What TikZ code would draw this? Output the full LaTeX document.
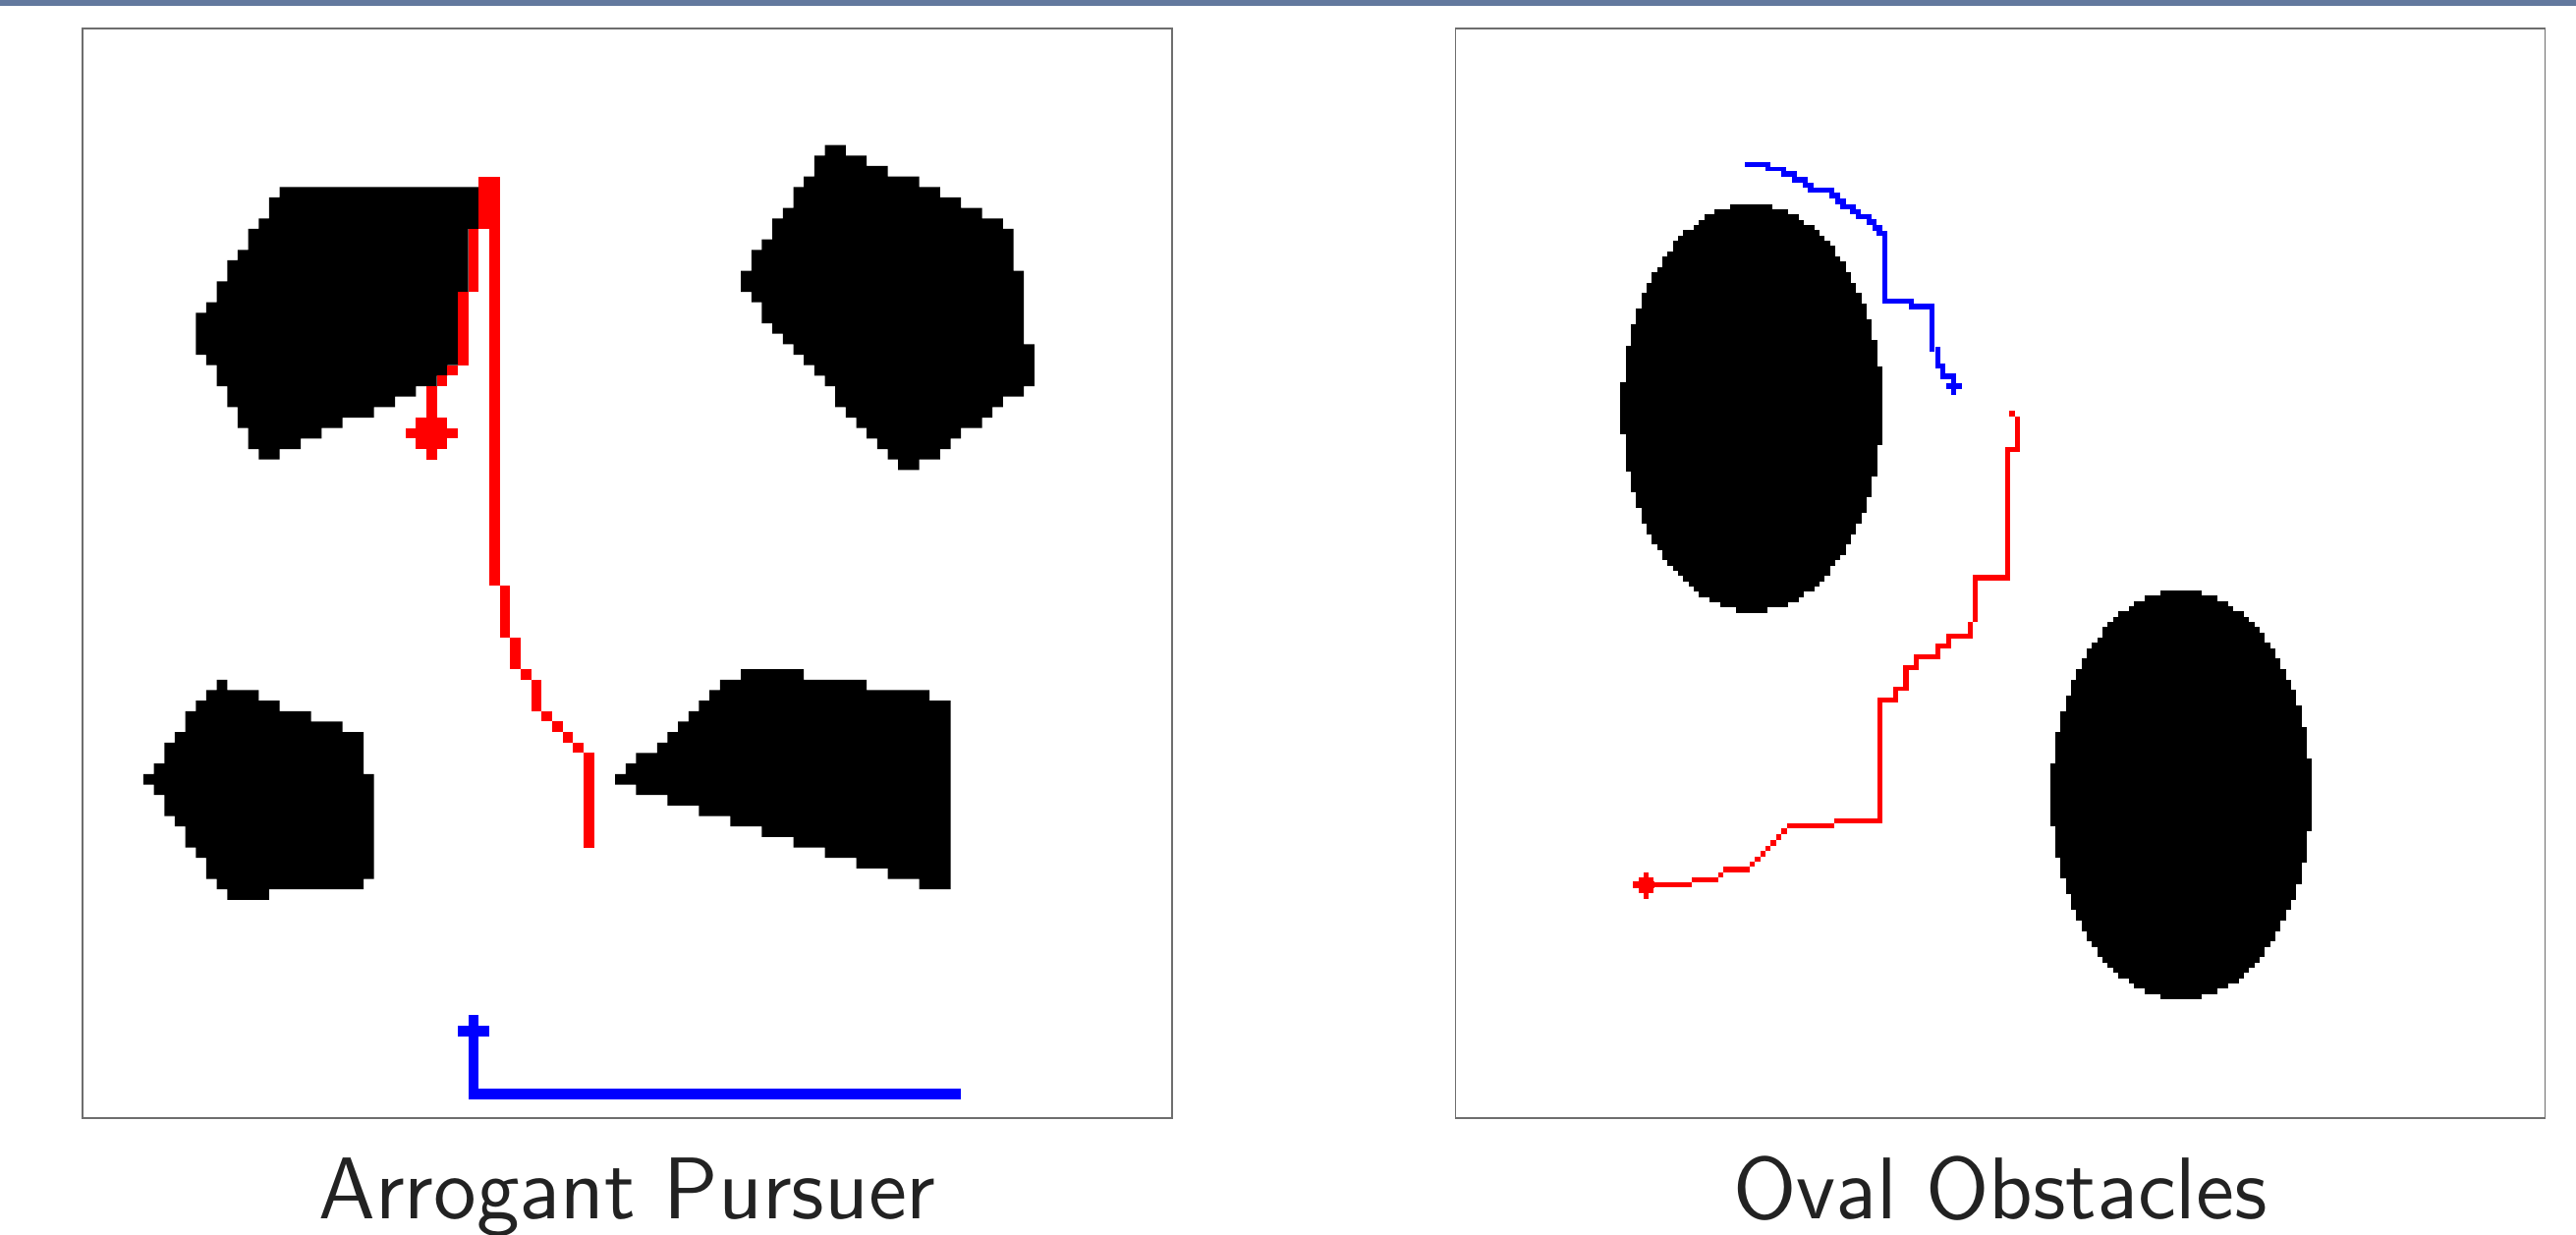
\documentclass[tikz,border=0pt]{standalone}
\definecolor{barblue}{RGB}{99,121,158}
\definecolor{framegray}{RGB}{110,110,110}
\definecolor{pxred}{RGB}{255,0,0}
\definecolor{pxblue}{RGB}{0,0,255}
\definecolor{titlegray}{RGB}{34,34,34}
% pixelated ellipse: #1 centre x, #2 top y, #3 x radius, #4 y radius
\newcommand{\pxellipse}[4]{%
  \foreach \j in {0,...,77} {%
    \pgfmathsetmacro{\pxY}{#2+\j*5.333}%
    \pgfmathsetmacro{\pxT}{(\pxY+2.6665-(#2+#4))/#4}%
    \pgfmathsetmacro{\pxW}{#3*sqrt(max(0,1-\pxT*\pxT))}%
    \pgfmathsetmacro{\pxL}{1916+round((#1-\pxW-1916)/5.333)*5.333}%
    \pgfmathsetmacro{\pxR}{1916+round((#1+\pxW-1916)/5.333)*5.333}%
    \fill[obst] (\pxL,\pxY) rectangle (\pxR,\pxY+5.45);%
  }%
}
\begin{document}
\begin{tikzpicture}[x=1pt,y=-1pt,
  obst/.style={fill=black},
  redpx/.style={fill=pxred},
  bluepx/.style={fill=pxblue},
  framebox/.style={draw=framegray,line width=1.4pt},
  titletext/.style={text=titlegray,anchor=base,inner sep=0pt}]
\useasboundingbox (0,0) rectangle (2622,1256);
\fill[white] (0,0) rectangle (2622,1256);
\fill[barblue] (0,0) rectangle (2622,5.5);
% ---------------- left panel ----------------
\begin{scope}[shift={(199.3,190.3)},x=10.67pt,y=-10.67pt]
  % obstacles
  \fill[obst] (8,0) -- (27,0) -- (27,4) -- (26,4) -- (26,10) -- (25,10) -- (25,17) -- (24,17) -- (24,18) -- (23,18) -- (23,19) -- (21,19) -- (21,20) -- (19,20) -- (19,21) -- (17,21) -- (17,22) -- (14,22) -- (14,23) -- (12,23) -- (12,24) -- (10,24) -- (10,25) -- (8,25) -- (8,26) -- (6,26) -- (6,25) -- (5,25) -- (5,23) -- (4,23) -- (4,21) -- (3,21) -- (3,19) -- (2,19) -- (2,17) -- (1,17) -- (1,16) -- (0,16) -- (0,12) -- (1,12) -- (1,11) -- (2,11) -- (2,9) -- (3,9) -- (3,7) -- (4,7) -- (4,6) -- (5,6) -- (5,4) -- (6,4) -- (6,3) -- (7,3) -- (7,1) -- (8,1) -- cycle;
  \fill[obst] (60,-4) -- (62,-4) -- (62,-3) -- (64,-3) -- (64,-2) -- (66,-2) -- (66,-1) -- (69,-1) -- (69,0) -- (71,0) -- (71,1) -- (73,1) -- (73,2) -- (75,2) -- (75,3) -- (77,3) -- (77,4) -- (78,4) -- (78,8) -- (79,8) -- (79,15) -- (80,15) -- (80,19) -- (79,19) -- (79,20) -- (77,20) -- (77,21) -- (76,21) -- (76,22) -- (75,22) -- (75,23) -- (73,23) -- (73,24) -- (72,24) -- (72,25) -- (71,25) -- (71,26) -- (69,26) -- (69,27) -- (67,27) -- (67,26) -- (66,26) -- (66,25) -- (65,25) -- (65,24) -- (64,24) -- (64,23) -- (63,23) -- (63,22) -- (62,22) -- (62,21) -- (61,21) -- (61,19) -- (60,19) -- (60,18) -- (59,18) -- (59,17) -- (58,17) -- (58,16) -- (57,16) -- (57,15) -- (56,15) -- (56,14) -- (55,14) -- (55,13) -- (54,13) -- (54,11) -- (53,11) -- (53,10) -- (52,10) -- (52,8) -- (53,8) -- (53,6) -- (54,6) -- (54,5) -- (55,5) -- (55,3) -- (56,3) -- (56,2) -- (57,2) -- (57,0) -- (58,0) -- (58,-1) -- (59,-1) -- (59,-3) -- (60,-3) -- cycle;
  \fill[obst] (2,47) -- (3,47) -- (3,48) -- (6,48) -- (6,49) -- (8,49) -- (8,50) -- (11,50) -- (11,51) -- (14,51) -- (14,52) -- (16,52) -- (16,56) -- (17,56) -- (17,66) -- (16,66) -- (16,67) -- (7,67) -- (7,68) -- (3,68) -- (3,67) -- (2,67) -- (2,66) -- (1,66) -- (1,64) -- (0,64) -- (0,63) -- (-1,63) -- (-1,61) -- (-2,61) -- (-2,60) -- (-3,60) -- (-3,58) -- (-4,58) -- (-4,57) -- (-5,57) -- (-5,56) -- (-4,56) -- (-4,55) -- (-3,55) -- (-3,53) -- (-2,53) -- (-2,52) -- (-1,52) -- (-1,50) -- (0,50) -- (0,49) -- (1,49) -- (1,48) -- (2,48) -- cycle;
  \fill[obst] (52,46) -- (58,46) -- (58,47) -- (64,47) -- (64,48) -- (70,48) -- (70,49) -- (72,49) -- (72,67) -- (69,67) -- (69,66) -- (66,66) -- (66,65) -- (63,65) -- (63,64) -- (60,64) -- (60,63) -- (57,63) -- (57,62) -- (54,62) -- (54,61) -- (51,61) -- (51,60) -- (48,60) -- (48,59) -- (45,59) -- (45,58) -- (42,58) -- (42,57) -- (40,57) -- (40,56) -- (41,56) -- (41,55) -- (42,55) -- (42,54) -- (44,54) -- (44,53) -- (45,53) -- (45,52) -- (46,52) -- (46,51) -- (47,51) -- (47,50) -- (48,50) -- (48,49) -- (49,49) -- (49,48) -- (50,48) -- (50,47) -- (52,47) -- cycle;
  % red pursuer path
  \fill[redpx] (27,-1) rectangle (29,4);
  \fill[redpx] (28,4) rectangle (29,38);
  \fill[redpx] (29,38) rectangle (30,43);
  \fill[redpx] (30,43) rectangle (31,46);
  \fill[redpx] (31,46) rectangle (32,47);
  \fill[redpx] (32,47) rectangle (33,50);
  \fill[redpx] (33,50) rectangle (34,51);
  \fill[redpx] (34,51) rectangle (35,52);
  \fill[redpx] (35,52) rectangle (36,53);
  \fill[redpx] (36,53) rectangle (37,54);
  \fill[redpx] (37,54) rectangle (38,63);
  \fill[redpx] (26,4) rectangle (27,10);
  \fill[redpx] (25,10) rectangle (26,17);
  \fill[redpx] (24,17) rectangle (25,18);
  \fill[redpx] (23,18) rectangle (24,19);
  \fill[redpx] (22,19) rectangle (23,22);
  \fill[redpx] (21,22) rectangle (24,23);
  \fill[redpx] (20,23) rectangle (25,24);
  \fill[redpx] (21,24) rectangle (24,25);
  \fill[redpx] (22,25) rectangle (23,26);
  % blue path
  \fill[bluepx] (26,79) rectangle (27,87);
  \fill[bluepx] (25,80) rectangle (28,81);
  \fill[bluepx] (26,86) rectangle (73,87);
\end{scope}
\draw[framebox] (84,29) rectangle (1193,1138);
% ---------------- right panel ----------------
\pxellipse{1783.4}{207.7}{132.4}{207.5}
\pxellipse{2220.3}{601}{132.5}{208.3}
% blue path
\foreach \a/\b/\c/\d in {1776/165/1802.3/169.7, 1797.3/169.7/1818.3/174.3, 1813.3/174.3/1829.3/180, 1824/180/1840/185.7, 1835/185.7/1846/191, 1840/191/1866.7/196, 1862.3/196/1873.3/201.7, 1867.7/201.7/1878.7/207.7, 1873.3/207.7/1889/212.7, 1883.3/212.7/1894.3/218.3, 1889/218.3/1905/223.3, 1900/223.3/1910/229.3, 1905.7/229.3/1915.7/235, 1910/235/1921/240, 1916/240/1921/309.3, 1916/304.3/1947.7/309.3, 1943.3/309.3/1969.3/315, 1964.3/309.3/1969.3/358.3, 1970/353.3/1975/375, 1975/370/1980/385.7, 1975/380/1990/385.7, 1985.7/380/1990.7/401.7, 1981/390/1996.7/396}
  {\fill[bluepx] (\a,\b) rectangle (\c,\d);}
% red path
\foreach \a/\b/\c/\d in {2045/417.5/2050.7/423.5, 2050.7/423.5/2055.7/460.3, 2040.7/455.4/2055.7/460.3, 2040.7/455.4/2045.7/590.5, 2008.3/585.2/2045.7/590.5, 2008.3/585.2/2013.3/633.2, 2002.7/633.2/2008/649.7, 1981/644.5/2008/649.7, 1981/644.5/1986/660.4, 1970/655.3/1986/660.4, 1970/655.3/1975/671.1, 1948.3/665.5/1975/671.1, 1948.3/665.5/1953.3/682.4, 1937.3/677.1/1953.3/682.4, 1937.3/677.1/1942.7/703.4, 1926.7/698.8/1942.7/703.4, 1926.7/698.8/1931.7/714.6, 1910.7/709.7/1931.7/714.6, 1910.7/709.7/1915.7/838.4, 1866.7/833.2/1915.7/838.4, 1819/838.4/1866.7/843.4, 1813.3/843.4/1819/849, 1807.7/849/1813.3/854.9, 1802.3/854.9/1807.7/860.5, 1796.7/860.5/1802.3/865.8, 1791.7/865.8/1796.7/871.8, 1785.7/871.8/1791.7/877, 1780.7/877/1785.7/882.3, 1754/881.6/1780.7/887.5, 1749/887.5/1754/892.8, 1721.7/892.8/1749/898.1, 1662.3/898.1/1721.7/903.3, 1672.7/887.5/1678.3/914.5, 1667.7/892.8/1683.3/908.6, 1662.3/897.4/1684.3/904}
  {\fill[redpx] (\a,\b) rectangle (\c,\d);}
\draw[framebox] (1481.5,29) rectangle (2590.3,1138);
% ---------------- titles ----------------
\node[titletext] (titleL) at (638.5,1240.7) {\scalebox{7.43}{\fontsize{12}{14}\selectfont\sffamily Arrogant Pursuer}};
\node[titletext] (titleR) at (2036,1240.7) {\scalebox{7.43}{\fontsize{12}{14}\selectfont\sffamily Oval Obstacles}};
\end{tikzpicture}
\end{document}
